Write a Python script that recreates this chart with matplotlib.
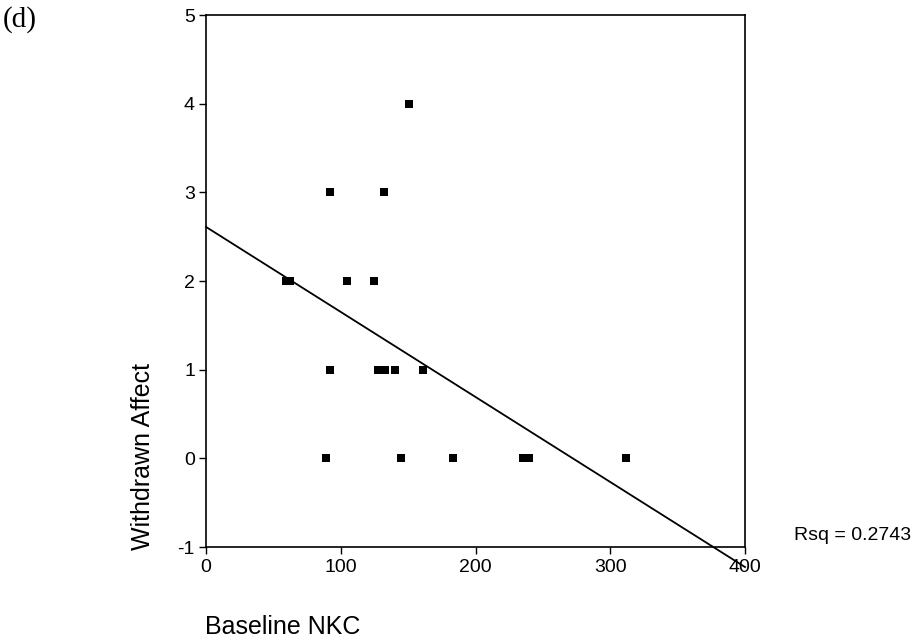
import numpy as np
import matplotlib
matplotlib.use("Agg")
import matplotlib.pyplot as plt

nkc = [151, 92, 132, 59, 62, 105, 125, 92, 128, 133, 140, 161, 89, 145, 183, 235, 240, 312]
affect = [4, 3, 3, 2, 2, 2, 2, 1, 1, 1, 1, 1, 0, 0, 0, 0, 0, 0]
xticks = [0, 100, 200, 300, 400]
yticks = [-1, 0, 1, 2, 3, 4, 5]
fit_intercept = 2.61
fit_slope = -0.00959
fit_range = [0, 400]
rsq_text = "Rsq = 0.2743"

plt.rcParams['font.family'] = ['Liberation Sans', 'DejaVu Sans']
plt.rcParams['axes.unicode_minus'] = False

fig = plt.figure(figsize=(9.14, 6.42), dpi=100)
ax = fig.add_axes([206/914, 1-547/642, (745-206)/914, (547-15)/642])

ax.scatter(nkc, affect, marker='s', s=38, color='black', linewidths=0, zorder=3)

xl = np.array(fit_range, dtype=float)
ax.plot(xl, fit_intercept + fit_slope*xl, color='black', lw=1.3, clip_on=False)

ax.set_xlim(0, 400)
ax.set_ylim(-1, 5)
ax.set_xticks(xticks)
ax.set_yticks(yticks)
ax.tick_params(direction='out', length=5, width=1, labelsize=14, colors='black')
ax.tick_params(axis='x', pad=4)
ax.tick_params(axis='y', pad=3)
for s in ax.spines.values():
    s.set_linewidth(1.2)

fig.text(143/914, 1-456/642, "Withdrawn Affect", rotation=90, ha='center', va='center', fontsize=18)
fig.text(205/914, 1-627/642, "Baseline NKC", ha='left', va='center', fontsize=18)
fig.text(794/914, 1-535/642, rsq_text, ha='left', va='center', fontsize=14)
fig.text(3/914, 1-20/642, "(d)", ha='left', va='center', fontsize=21, family=['Liberation Serif', 'DejaVu Serif'])

fig.savefig("out.png", dpi=100)
